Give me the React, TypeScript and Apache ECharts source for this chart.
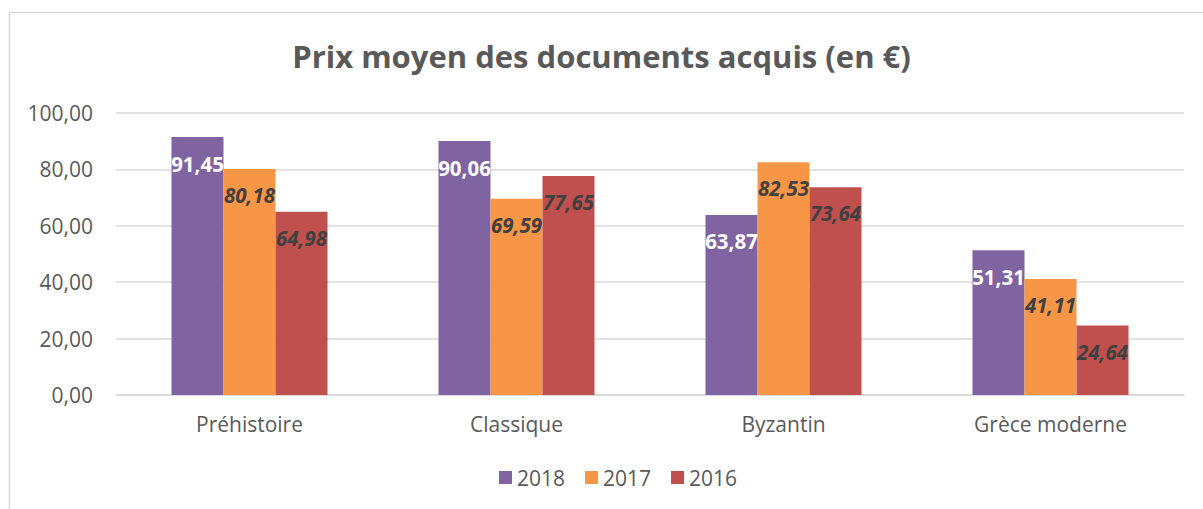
import React, { useEffect, useRef } from "react";
import * as echarts from "echarts";

const categories = ["Préhistoire", "Classique", "Byzantin", "Grèce moderne"];
const seriesNames = ["2018", "2017", "2016"];
const values2018 = [91.45, 90.06, 63.87, 51.31];
const values2017 = [80.18, 69.59, 82.53, 41.11];
const values2016 = [64.98, 77.65, 73.64, 24.64];
const colors = ["#8064a2", "#f79646", "#c0504d"];
const titleText = "Prix moyen des documents acquis (en €)";

const fmt = (v: number) => v.toFixed(2).replace(".", ",");
const FONT = "Open Sans";

export default function App() {
  const ref = useRef<HTMLDivElement>(null);
  useEffect(() => {
    document.body.style.margin = "0";
    const chart = echarts.init(ref.current!, null, { renderer: "svg" });
    const all = [values2018, values2017, values2016];
    chart.setOption({
      animation: false,
      backgroundColor: "#ffffff",
      title: {
        text: titleText,
        left: "center",
        top: 35,
        textStyle: { fontFamily: FONT, fontSize: 31, fontWeight: "bold", color: "#595959" },
      },
      graphic: [
        {
          type: "rect",
          shape: { x: 9.5, y: 12.5, width: 1300, height: 600 },
          style: { fill: "none", stroke: "#d9d9d9", lineWidth: 1.5 },
          silent: true,
        },
      ],
      legend: {
        data: seriesNames,
        bottom: 16,
        left: 494,
        icon: "rect",
        itemWidth: 13,
        itemHeight: 13,
        itemGap: 20,
        textStyle: { fontFamily: FONT, fontSize: 21, color: "#595959" },
      },
      grid: { left: 116, right: 19, top: 113, bottom: 114 },
      xAxis: {
        type: "category",
        data: categories,
        axisLine: { lineStyle: { color: "#d9d9d9", width: 1.5 } },
        axisTick: { show: false },
        axisLabel: { fontFamily: FONT, fontSize: 21, color: "#595959", margin: 18 },
      },
      yAxis: {
        type: "value",
        min: 0,
        max: 100,
        interval: 20,
        axisLine: { show: false },
        axisTick: { show: false },
        splitLine: { lineStyle: { color: "#d9d9d9", width: 1.5 } },
        axisLabel: {
          fontFamily: FONT,
          fontSize: 21,
          color: "#595959",
          margin: 23,
          formatter: (v: number) => fmt(v),
        },
      },
      series: seriesNames.map((name, i) => ({
        name,
        type: "bar",
        data: all[i],
        barWidth: 52,
        barGap: "0%",
        itemStyle: { color: colors[i] },
        label: {
          show: true,
          position: "insideTop",
          distance: 16,
          formatter: (p: any) => fmt(p.value),
          fontFamily: FONT,
          fontSize: 20.5,
          fontWeight: "bold",
          fontStyle: i === 0 ? "normal" : "italic",
          color: i === 0 ? "#ffffff" : "#404040",
        },
      })),
    });
    return () => chart.dispose();
  }, []);
  return <div ref={ref} style={{ width: 1203, height: 509 }} />;
}
